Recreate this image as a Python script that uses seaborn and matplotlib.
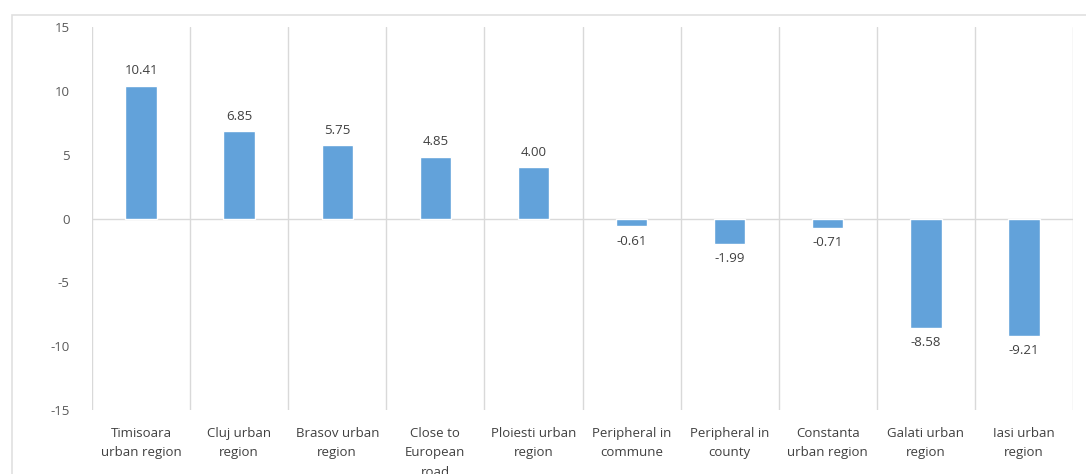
import matplotlib
matplotlib.use("Agg")
import matplotlib.pyplot as plt
import seaborn as sns
import pandas as pd
import numpy as np
from matplotlib.patches import Rectangle

sns.set_theme(style="white")
plt.rcParams["font.family"] = ["Open Sans", "DejaVu Sans"]
plt.rcParams["axes.unicode_minus"] = False

# data
regions = [
    "Timisoara\nurban region",
    "Cluj urban\nregion",
    "Brasov urban\nregion",
    "Close to\nEuropean\nroad",
    "Ploiesti urban\nregion",
    "Peripheral in\ncommune",
    "Peripheral in\ncounty",
    "Constanta\nurban region",
    "Galati urban\nregion",
    "Iasi urban\nregion",
]
values = [10.41, 6.85, 5.75, 4.85, 4.00, -0.61, -1.99, -0.71, -8.58, -9.21]
yticks = [-15, -10, -5, 0, 5, 10, 15]

df = pd.DataFrame({"region": regions, "value": values})

fig = plt.figure(figsize=(10.86, 4.74), dpi=100)
ax = fig.add_axes([92 / 1086, 1 - 410 / 474, (1073 - 92) / 1086, (410 - 27) / 474])

# outer chart border (cropped on right/bottom)
fig.patches.append(Rectangle((12 / 1086, -0.1), 1.2, 1 - 15 / 474 + 0.1,
                             transform=fig.transFigure, fill=False,
                             edgecolor="#e0e0e0", linewidth=1.2, zorder=0))

sns.barplot(data=df, x="region", y="value", color="#62A2DA", width=0.32,
            saturation=1, ax=ax, zorder=3)

ax.set_ylim(-15, 15)
ax.set_yticks(yticks)
ax.set_xlim(-0.5, len(regions) - 0.5)
ax.set_xlabel("")
ax.set_ylabel("")

# category separators
ax.set_xticks(np.arange(-0.5, len(regions), 1), minor=True)
ax.grid(False)
ax.grid(True, which="minor", axis="x", color="#d9d9d9", linewidth=1)
ax.axhline(0, color="#d9d9d9", linewidth=1, zorder=2)

for s in ax.spines.values():
    s.set_visible(False)

ax.tick_params(axis="y", length=0, pad=16, labelsize=9.5, labelcolor="#595959")
ax.tick_params(axis="x", which="both", length=0, pad=12, labelsize=9.5,
               labelcolor="#404040")
for lbl in ax.get_xticklabels():
    lbl.set_linespacing(1.65)

for c in ax.containers:
    ax.bar_label(c, labels=[f"{v:.2f}" for v in values], padding=6,
                 fontsize=9.5, color="#404040")

fig.savefig("out.png", dpi=100)
